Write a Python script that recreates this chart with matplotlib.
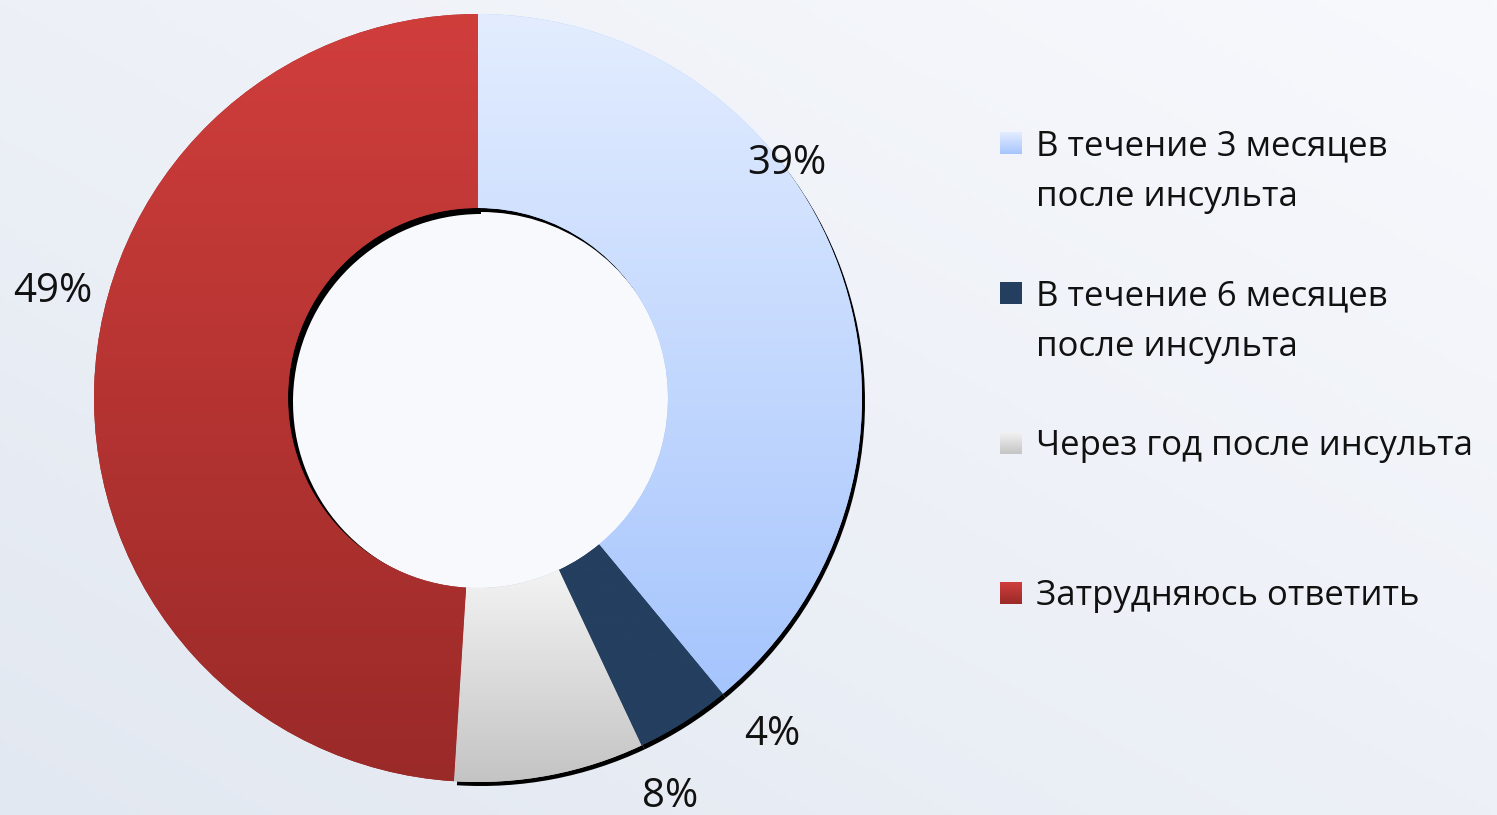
import numpy as np
import matplotlib.pyplot as plt
from matplotlib import patches
from matplotlib.colors import LinearSegmentedColormap

plt.rcParams['font.family'] = ['Open Sans', 'DejaVu Sans']

categories = ['В течение 3 месяцев\nпосле инсульта',
              'В течение 6 месяцев\nпосле инсульта',
              'Через год после инсульта',
              'Затрудняюсь ответить']
values = [39, 4, 8, 49]
pct_labels = ['39%', '4%', '8%', '49%']
top_colors = ['#e3edff', '#243f5f', '#f3f3f3', '#d03e3c']
bottom_colors = ['#a6c5fd', '#243f5f', '#c4c4c4', '#9a2a28']

# figure in pixel units (y measured from the top of the picture)
W, H = 1497, 815
cx, cy = 478, 398
R, r_in = 384, 190
label_pos = [(787, 164), (772, 735), (670, 797), (53, 292)]
shadow_off = (3, 4)


def py(y):
    return H - y


fig = plt.figure(figsize=(W / 100, H / 100), dpi=100)
ax = fig.add_axes([0, 0, 1, 1])

# background: darker bottom-left, lighter top-right
gx, gy = np.meshgrid(np.linspace(0, 1, 300), np.linspace(0, 1, 160))
t = np.clip(0.5 * gx + 0.5 * (1 - gy), 0, 1)
c0 = np.array([0xe2, 0xe8, 0xf1]) / 255
c1 = np.array([0xf8, 0xf9, 0xfd]) / 255
bg = c0[None, None, :] * (1 - t[..., None]) + c1[None, None, :] * t[..., None]
ax.imshow(bg, extent=(0, W, 0, H), aspect='auto', zorder=0)

wedges, _ = ax.pie(values, radius=R, center=(cx, py(cy)), startangle=90,
                   counterclock=False,
                   wedgeprops=dict(width=R - r_in, linewidth=0),
                   colors=bottom_colors)

ax.set_xlim(0, W)
ax.set_ylim(0, H)
ax.set_aspect('auto')
ax.axis('off')

# whitish hole
ax.add_patch(patches.Circle(wedges[0].center, r_in + 2, fc='#f8f9fc', ec='none', zorder=0.5))

# drop shadows (visible on the right / lower edges and inside the hole)
for i, w in enumerate(wedges):
    sc = (w.center[0] + shadow_off[0], w.center[1] - shadow_off[1])
    if i == 3:
        s = patches.Wedge(sc, w.r - w.width + 8, w.theta1, w.theta2, width=10,
                          fc='black', ec='none', zorder=1)
    else:
        s = patches.Wedge(sc, w.r, w.theta1, w.theta2, width=w.width,
                          fc='black', ec='none', zorder=1)
    ax.add_patch(s)

# gradient fills clipped to each wedge
grad = np.linspace(0, 1, 256).reshape(-1, 1)
for i, w in enumerate(wedges):
    w.set_zorder(2)
    bb = w.get_path().get_extents()
    cmap = LinearSegmentedColormap.from_list('g%d' % i, [top_colors[i], bottom_colors[i]])
    im = ax.imshow(grad, extent=(bb.x0, bb.x1, bb.y0, bb.y1), cmap=cmap,
                   aspect='auto', zorder=3, vmin=0, vmax=1)
    im.set_clip_path(w)

ax.set_xlim(0, W)
ax.set_ylim(0, H)

for lab, (x, y) in zip(pct_labels, label_pos):
    ax.text(x, py(y), lab, fontsize=29, ha='center', va='center', color='#111111', zorder=5)

# legend
for i, lab in enumerate(categories):
    base = 155 + 150 * i
    sq = patches.Rectangle((1000, py(base - 1)), 22, 22, lw=0, fc=bottom_colors[i], zorder=4)
    ax.add_patch(sq)
    cmap = LinearSegmentedColormap.from_list('l%d' % i, [top_colors[i], bottom_colors[i]])
    im = ax.imshow(grad, extent=(1000, 1022, py(base - 1), py(base - 23)), cmap=cmap,
                   aspect='auto', zorder=5, vmin=0, vmax=1)
    im.set_clip_path(sq)
    for k, line in enumerate(lab.split('\n')):
        ax.text(1036, py(base + 51 * k), line, fontsize=25, ha='left', va='baseline',
                color='#111111', zorder=5)

ax.set_xlim(0, W)
ax.set_ylim(0, H)
fig.savefig('out.png', dpi=100)
